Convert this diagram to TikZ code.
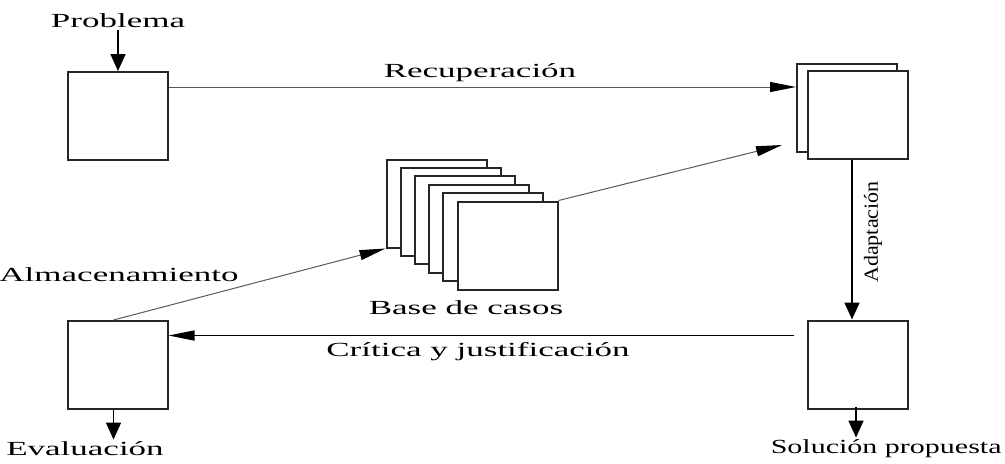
\documentclass[tikz,border=0pt]{standalone}
\usepackage{fontspec}
\newfontfamily\etiqfont{Liberation Serif}[FakeStretch=1.75]
\newfontfamily\solfont{Liberation Serif}[FakeStretch=1.5]
\newfontfamily\vertfont{Liberation Serif}[FakeStretch=1.1]
\usepackage{tikz}
\usetikzlibrary{arrows.meta}
\tikzset{
  caja/.style={ draw=black!85, line width=1pt, fill=white, minimum width=50pt, minimum height=44pt, inner sep=0pt }
}
\tikzset{
  etiq/.style={ font=\etiqfont\fontsize{10}{12}\selectfont, text=black, inner sep=1pt }
}
\tikzset{
  vflecha/.style={ draw=black, line width=0.8pt, -{Triangle[length=8.5pt, width=7.5pt, black]} }
}
\tikzset{
  hflecha/.style={ draw=black, line width=0.7pt, -{Triangle[length=13pt, width=5pt, black]} }
}
\tikzset{
  hlinea/.style={ draw=black!65, line width=0.5pt, -{Triangle[length=13pt, width=5pt, black]} }
}

\begin{document}
\begin{tikzpicture}[x=0.5pt, y=-0.5pt]
      \useasboundingbox (0, 0) rectangle (1005, 463);
      % cajas
      \node[caja] (prob) at (118, 116) {};
      \node[caja] (eval) at (117.5, 365) {};
      \node[caja] (sol) at (858, 364.5) {};
      \node[caja] (atras) at (847, 108) {};
      \node[caja] (frente) at (858, 115) {};
      % base de casos
      \foreach \i in {0,...,5}
        \node[caja] (caso\i) at ({436.5+14.2*\i}, {203.5+8.4*\i}) {};
      % textos
      \node[etiq] (problema) at (118, 21) {Problema};
      \node[etiq] (recup) at (480, 73) {Recuperación};
      \node[etiq] (almac) at (119, 275) {Almacenamiento};
      \node[etiq] (base) at (466, 308) {Base de casos};
      \node[etiq] (critica) at (478, 352) {Crítica y justificación};
      \node[etiq] (evaluacion) at (85, 449) {Evaluación};
      \node[etiq, font=\solfont\fontsize{10}{12}\selectfont, anchor=east] (solucion) at (1004, 449) {Solución propuesta};
      \node[rotate=90, font=\vertfont\fontsize{10}{12}\selectfont, text=black] (adapt) at (873, 232) {Adaptación};
      % flechas
      \draw[vflecha] (problema) -- (prob);
      \draw[hlinea] ([yshift=14.5pt]prob.east) -- ([yshift=14.5pt]prob.east -| atras.west);
      \draw[hlinea] (caso5.north east) -- ([xshift=-7pt, yshift=-18.5pt]atras.west);
      \draw[hlinea] ([xshift=-2pt]eval.north) -- (caso0.south west);
      \draw[vflecha] ([xshift=-3pt]frente.south) -- ([xshift=-3pt]sol.north);
      \draw[hflecha] ([xshift=-6.5pt, yshift=14.5pt]sol.west) -- ([yshift=14.5pt]sol.west -| eval.east);
      \draw[vflecha] ([xshift=-2pt]eval.south) -- ([xshift=-2pt]eval.south |- evaluacion.north);
      \draw[vflecha] ([xshift=-1pt, yshift=1.5pt]sol.south) -- ([xshift=-1pt]sol.south |- solucion.north);
    \end{tikzpicture}
\end{document}
